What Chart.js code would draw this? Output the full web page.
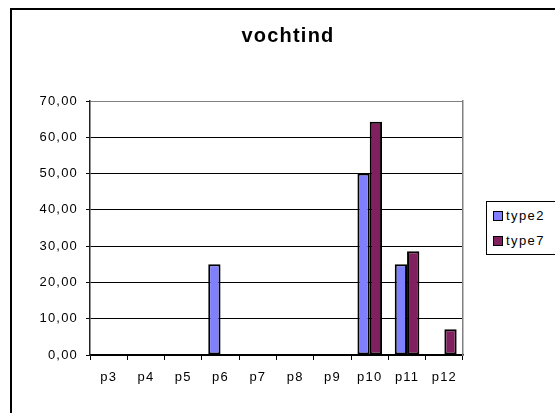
<!DOCTYPE html>
<html>
<head>
<meta charset="utf-8">
<script src="https://cdn.jsdelivr.net/npm/chart.js@4"></script>
<style>
    html, body { margin: 0; padding: 0; background: #fff; overflow: hidden; }
    #wrap { position: relative; width: 555px; height: 413px; overflow: hidden; }
    #frame {
        position: absolute; left: 10px; top: 8px; width: 600px; height: 500px;
        border: 2px solid #000; box-sizing: border-box; pointer-events: none;
    }
    #chart { position: absolute; left: 0; top: 0; }
    #legend {
        position: absolute; left: 486px; top: 201px; width: 90px; height: 54px;
        border: 1px solid #000; box-sizing: border-box; background: #fff;
        font: 13px "Liberation Sans", Arial, sans-serif; letter-spacing: 1.4px; color: #000;
    }
    .item { position: absolute; left: 6px; height: 16px; line-height: 16px; }
    .swatch {
        display: inline-block; width: 8px; height: 8px; border: 1px solid #000;
        vertical-align: -1px; margin-right: 3px;
    }
</style>
</head>
<body>
<div id="wrap">
    <canvas id="chart" width="576" height="413"></canvas>
    <div id="frame"></div>
    <div id="legend"></div>
</div>
<script>
// chart data
const categories = ["p3", "p4", "p5", "p6", "p7", "p8", "p9", "p10", "p11", "p12"];
const type2 = [null, null, null, 25, null, null, null, 50, 25, null];
const type7 = [null, null, null, null, null, null, null, 64.3, 28.6, 7.1];
const seriesNames = ["type2", "type7"];
const seriesColors = ["#8080FF", "#80205F"];
const yTicks = [0, 10, 20, 30, 40, 50, 60, 70];

const FONT = "'Liberation Sans', Arial, sans-serif";

function renderLegend() {
    const box = document.getElementById("legend");
    box.innerHTML = seriesNames
        .map((name, i) => `<div class="item" style="top:${6 + i * 25}px">
                <span class="swatch" style="background:${seriesColors[i]}"></span>${name}</div>`)
        .join("");
}

// wider letters, like the old Excel output
const spacingPlugin = {
    id: "spacing",
    beforeDraw(chart) {
        chart.ctx.letterSpacing = "1.2px";
    },
};

new Chart(document.getElementById("chart"), {
    type: "bar",
    data: {
        labels: categories,
        datasets: [
            { label: seriesNames[0], data: type2, backgroundColor: seriesColors[0] },
            { label: seriesNames[1], data: type7, backgroundColor: seriesColors[1] },
        ].map((d) => ({
            ...d,
            borderColor: "#000",
            borderWidth: 2,
            borderSkipped: false,
            barPercentage: 1,
            categoryPercentage: 0.66,
        })),
    },
    plugins: [spacingPlugin],
    options: {
        responsive: false,
        animation: false,
        layout: { padding: 0 },
        plugins: {
            legend: { display: false },
            tooltip: { enabled: false },
            title: {
                display: true,
                text: "vochtind",
                color: "#000",
                font: { family: FONT, size: 20, weight: "bold" },
                padding: { top: 24, bottom: 53 },
            },
        },
        scales: {
            x: {
                grid: {
                    offset: true,
                    drawOnChartArea: false,
                    tickLength: 5,
                    tickColor: "#000",
                },
                border: { color: "#000", width: 1.5 },
                ticks: {
                    color: "#000",
                    padding: 10,
                    maxRotation: 0,
                    font: { family: FONT, size: 13 },
                },
                afterFit(scale) { scale.height = 58; },
            },
            y: {
                min: 0,
                max: 70,
                afterBuildTicks(scale) { scale.ticks = yTicks.map((v) => ({ value: v })); },
                grid: {
                    color: (ctx) => (ctx.tick && ctx.tick.value === 70 ? "#808080" : "#000"),
                    tickColor: "#000",
                    tickLength: 4,
                },
                border: { color: "#222", width: 1.5 },
                ticks: {
                    color: "#000",
                    padding: 8,
                    font: { family: FONT, size: 13 },
                    callback: (v) => Number(v).toFixed(2).replace(".", ","),
                },
                afterFit(scale) { scale.width = 90; },
            },
            y2: {
                position: "right",
                display: true,
                min: 0,
                max: 70,
                grid: { drawOnChartArea: false, drawTicks: false },
                border: { color: "#808080", width: 1.5 },
                ticks: { display: false },
                afterFit(scale) { scale.width = 113; },
            },
        },
    },
});

renderLegend();
</script>
</body>
</html>
